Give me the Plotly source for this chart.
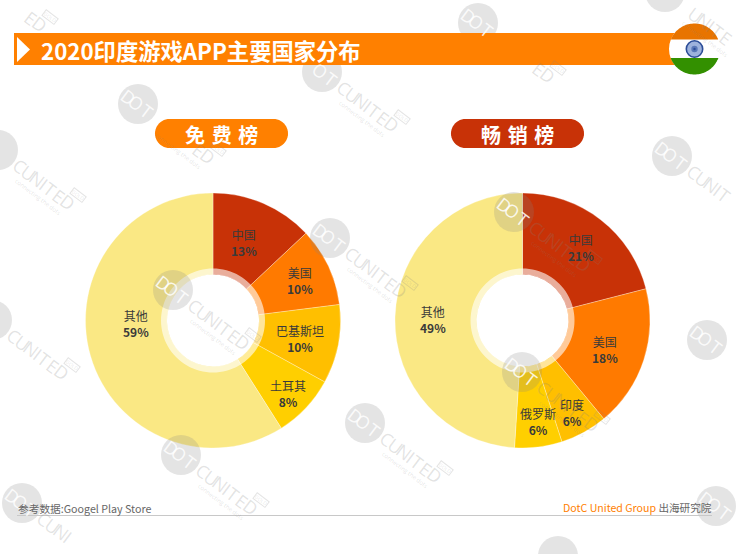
import math
import plotly.graph_objects as go

# ---- data ----
free_labels = ["中国", "美国", "巴基斯坦", "土耳其", "其他"]
free_values = [13, 10, 10, 8, 59]
paid_labels = ["中国", "美国", "印度", "俄罗斯", "其他"]
paid_values = [21, 18, 6, 6, 49]
slice_colors = ["#C83207", "#FF7A00", "#FFBF00", "#FFCF00", "#FAE884"]
title_text = "2020印度游戏APP主要国家分布"
free_title = "免\u2004费\u2004榜"
paid_title = "畅\u2004销\u2004榜"
source_text = "参考数据:Googel Play Store"
brand_text = "DotC United Group"
brand_suffix = " 出海研究院"

W, H = 738, 554
FONT = "Noto Sans CJK SC"
INK = "#3a3a3a"
ORANGE = "#FF8000"
RED = "#C83207"

# label block offsets from each pie's centre (page pixels)
free_offsets = [(31, -78), (87, -40), (87, 17.5), (75, 72.5), (-77, 3)]
paid_offsets = [(58.5, -73.5), (82.5, 28.5), (49.5, 91.5), (15.5, 101), (-89.5, -1.5)]

# watermark circle centres (page pixels)
mark_centres = [(478, 23), (322, 72), (138, 104), (672, 156), (330, 238), (173, 290),
                (514, 212), (522, 372), (365, 423), (707, 340), (181, 455), (22, 503),
                (558, 556), (716, 506), (665, -8), (-8, 320), (-2, 150), (-30, -28), (132, -48)]
mark_angle = 37
mark_letters = "DOTCUNITED"
mark_steps = [-12, -2, 11, 27, 38, 49, 57, 65, 76, 87]
opaque_rects = [(14, 33, 680, 65), (155, 119, 288, 148), (451, 119, 584, 148)]


def hidden(x, y):
    return any(a <= x <= c and b <= y <= d for a, b, c, d in opaque_rects)


def inside(x, y, pad=12):
    return pad < x < W - pad and pad < y < H - pad


def pie_trace(labels, values, cx, cy, r):
    return go.Pie(
        labels=labels, values=values, sort=False, direction="clockwise", rotation=0,
        hole=46 / r, textinfo="none", hoverinfo="label+percent",
        marker=dict(colors=slice_colors, line=dict(color="rgba(255,255,255,0.6)", width=0.5)),
        domain=dict(x=[(cx - r) / W, (cx + r) / W], y=[1 - (cy + r) / H, 1 - (cy - r) / H]),
        showlegend=False,
    )


def circle(cx, cy, r, fill, line=None, lw=0):
    return dict(type="circle", xref="x", yref="y", x0=cx - r, x1=cx + r, y0=cy - r, y1=cy + r,
                fillcolor=fill, line=dict(color=line or "rgba(0,0,0,0)", width=lw))


def path(d, fill):
    return dict(type="path", xref="x", yref="y", path=d, fillcolor=fill, line=dict(width=0))


def arc(cx, cy, r, a0, a1, n=48):
    """points along a circle, angles in degrees clockwise on screen from +x"""
    return [(cx + r * math.cos(math.radians(a0 + (a1 - a0) * i / n)),
             cy + r * math.sin(math.radians(a0 + (a1 - a0) * i / n))) for i in range(n + 1)]


def poly(points):
    return "M " + " L ".join(f"{x:.2f},{y:.2f}" for x, y in points) + " Z"


def pill(x0, x1, y0, y1, fill):
    r = (y1 - y0) / 2
    pts = arc(x1 - r, y0 + r, r, -90, 90, 24) + arc(x0 + r, y0 + r, r, 90, 270, 24)
    return path(poly(pts), fill)


def ann(x, y, text, size, color, anchor="center", angle=0, family=FONT, **kw):
    return dict(x=x, y=y, xref="x", yref="y", text=text, showarrow=False, xanchor=anchor,
                yanchor="middle", textangle=angle, font=dict(family=family, size=size, color=color), **kw)


fig = go.Figure()
fig.add_trace(go.Scatter(x=[], y=[], showlegend=False))
fig.add_trace(pie_trace(free_labels, free_values, 213, 320.5, 127.5))
fig.add_trace(pie_trace(paid_labels, paid_values, 522.5, 320.5, 127.5))

shapes, annos = [], []

# translucent ring round the holes
for cx in (213, 522.5):
    outer = arc(cx, 320.5, 52, 0, 360, 96)
    inner = arc(cx, 320.5, 46, 360, 0, 96)
    shapes.append(path(poly(outer) + " " + poly(inner), "rgba(255,255,255,0.6)"))

# watermark
ca, sa = math.cos(math.radians(mark_angle)), math.sin(math.radians(mark_angle))
mark_grey = "rgba(130,130,130,0.22)"
for mx, my in mark_centres:
    shapes.append(circle(mx, my, 20, mark_grey))
    for i, (ch, t) in enumerate(zip(mark_letters, mark_steps)):
        lx, ly = mx + t * ca, my + t * sa
        if hidden(lx, ly) or not inside(lx, ly):
            continue
        col = "rgba(255,255,255,0.85)" if i < 3 else mark_grey
        annos.append(ann(lx, ly, ch, 18, col, angle=mark_angle, family="Open Sans"))
    # small strapline under the word
    tx, ty = mx + 60 * ca - 14 * sa, my + 60 * sa + 14 * ca
    ends = [(tx - 36 * ca, ty - 36 * sa), (tx + 36 * ca, ty + 36 * sa)]
    if not any(hidden(*p) for p in ends) and all(inside(*p, pad=3) for p in ends):
        annos.append(ann(tx, ty, "connecting the dots", 6, mark_grey, angle=mark_angle, family="Open Sans"))
    gx, gy = mx + 91 * ca + 12 * sa, my + 91 * sa - 12 * ca
    if not hidden(gx, gy) and inside(gx, gy):
        annos.append(ann(gx, gy, "GOLD", 5, mark_grey, angle=mark_angle, family="Open Sans",
                         bordercolor=mark_grey, borderwidth=1, borderpad=0))

# header bar, triangle, pills
shapes.append(dict(type="rect", xref="x", yref="y", x0=14, x1=680, y0=33, y1=65,
                   fillcolor=ORANGE, line=dict(width=0)))
shapes.append(path("M 17,37 L 30,49.5 L 17,62 Z", "#FFFFFF"))
shapes.append(pill(155, 288, 119, 148, ORANGE))
shapes.append(pill(451, 584, 119, 148, RED))

# flag
fx, fy, fr = 694.5, 49, 25.5
shapes.append(circle(fx, fy, fr, "#FFFFFF"))
for yy, col, sign in ((39.5, "#E87400", -1), (58, "#339000", 1)):
    a = math.degrees(math.asin((yy - fy) / fr))
    if sign < 0:
        pts = arc(fx, fy, fr, 180 - a, 360 + a)
    else:
        pts = arc(fx, fy, fr, a, 180 - a)
    shapes.append(path(poly(pts), col))
shapes.append(circle(fx, fy, 8.2, "#9DB2DC", "#2B4C97", 1.6))
shapes.append(circle(fx, fy, 3.2, "#5A78B8"))
shapes.append(circle(fx, fy, 1.2, "#2B4C97"))

# footer rule
shapes.append(dict(type="line", xref="x", yref="y", x0=17, x1=712, y0=515.5, y1=515.5,
                   line=dict(color="#C8C8C8", width=1)))

# pie labels
for cx, labels, values, offsets in ((213, free_labels, free_values, free_offsets),
                                    (522.5, paid_labels, paid_values, paid_offsets)):
    for l, v, (dx, dy) in zip(labels, values, offsets):
        annos.append(ann(cx + dx, 320.5 + dy, f"{l}<br><b>{v}%</b>", 12, INK))

annos.append(ann(39, 50, f"<b>{title_text}</b>", 22.3, "#FFFFFF", anchor="left"))
annos.append(ann(221.5, 134, f"<b>{free_title}</b>", 20, "#FFFFFF"))
annos.append(ann(517.5, 134, f"<b>{paid_title}</b>", 20, "#FFFFFF"))
annos.append(ann(15.5, 508, source_text, 10.7, "#666666", anchor="left"))
annos.append(ann(714, 507,
                 f"<span style='color:{ORANGE}'>{brand_text}</span>{brand_suffix}",
                 10.6, "#666666", anchor="right"))

fig.update_layout(
    width=W, height=H, margin=dict(l=0, r=0, t=0, b=0), autosize=False,
    paper_bgcolor="#FFFFFF", plot_bgcolor="rgba(0,0,0,0)",
    xaxis=dict(range=[0, W], visible=False, domain=[0, 1], fixedrange=True),
    yaxis=dict(range=[H, 0], visible=False, domain=[0, 1], fixedrange=True),
    shapes=shapes, annotations=annos, font=dict(family=FONT), showlegend=False,
)
fig.write_html("out.html", config=dict(displayModeBar=False),
               post_script="document.body.style.margin='0';document.body.style.overflow='hidden';")
